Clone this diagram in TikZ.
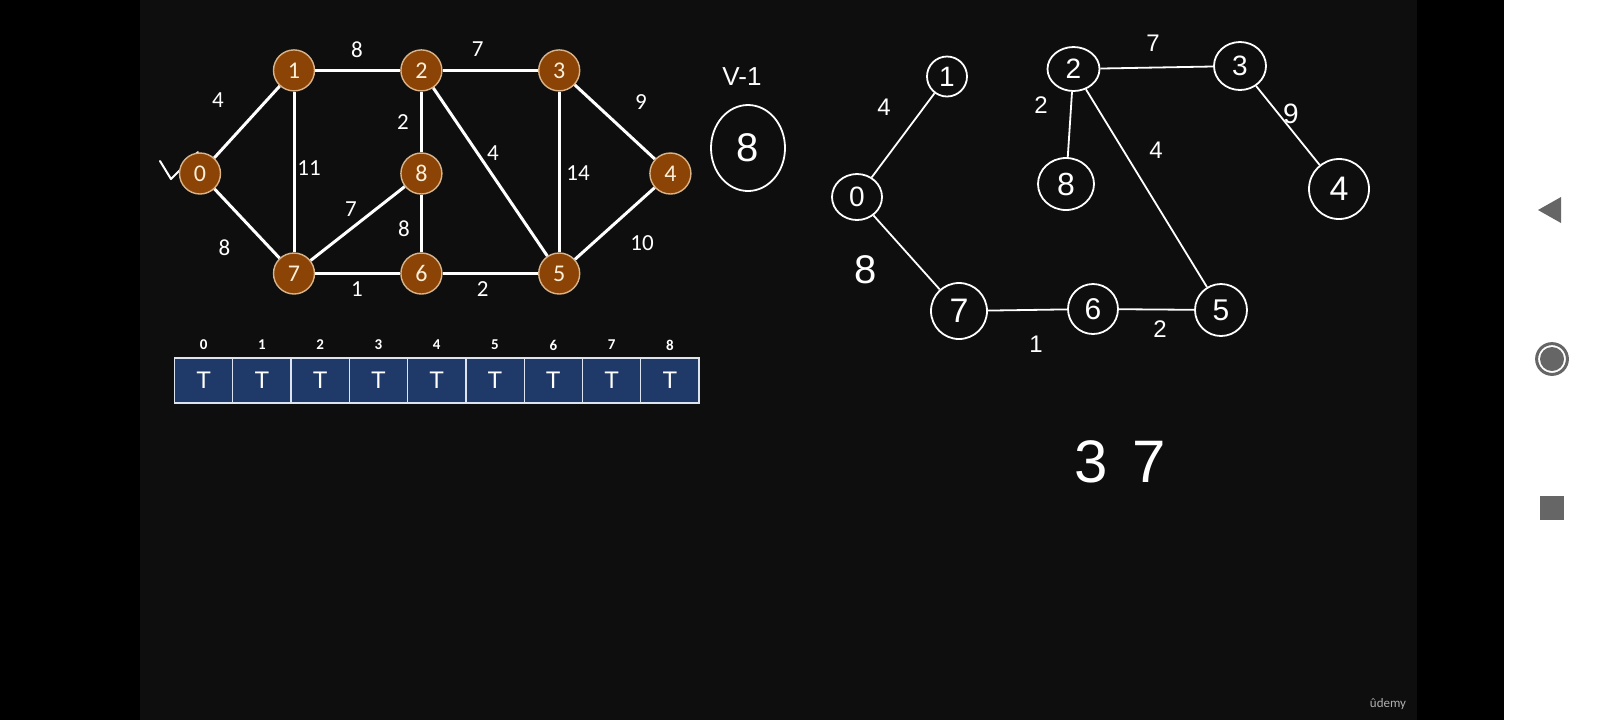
\documentclass[tikz,border=0pt]{standalone}
\usepackage{fontspec}
\setmainfont{Carlito}
\newfontfamily\hand{Liberation Sans}
\usetikzlibrary{shapes.geometric}
\definecolor{slidebg}{HTML}{0E0E0E}
\definecolor{nodebrown}{HTML}{8B4306}
\definecolor{nodeedge}{HTML}{D9B48A}
\definecolor{nodetext}{HTML}{FBEFD8}
\definecolor{cellblue}{HTML}{1F3A68}
\definecolor{cellline}{HTML}{DCE4F0}
\definecolor{navcol}{HTML}{666666}
\definecolor{udemycol}{HTML}{B0B0B0}
\begin{document}
\begin{tikzpicture}[x=0.5pt,y=-0.5pt,
 gnode/.style={circle, fill=nodebrown, draw=nodeedge, line width=0.7pt, minimum size=20.5pt, inner sep=0pt, text=nodetext, font=\fontsize{12}{13}\selectfont},
 gedge/.style={draw=white, line width=1.5pt},
 glabel/.style={text=white, font=\fontsize{11.5}{13}\selectfont, inner sep=0pt},
 cell/.style={rectangle, fill=cellblue, draw=cellline, line width=0.6pt, minimum width=29.14pt, minimum height=22.5pt, inner sep=0pt, text=white, font=\hand\fontsize{12}{14}\selectfont},
 idx/.style={text=white, font=\bfseries\fontsize{7.5}{9}\selectfont, inner sep=0pt},
 hnode/.style={ellipse, draw=white, line width=0.9pt, inner sep=0pt, text=white, font=\hand\fontsize{14}{16}\selectfont},
 hedge/.style={draw=white, line width=0.9pt},
 hlabel/.style={text=white, font=\hand\fontsize{12}{14}\selectfont, inner sep=0pt}
]
% background
\fill[black] (0,0) rectangle (1600,720);
\useasboundingbox (0,0) rectangle (1600,720);
\fill[slidebg] (140,0) rectangle (1417,720);
\fill[white] (1504,0) rectangle (1600,720);

% ---------- left graph ----------
\draw[white, line width=1pt, line cap=round, line join=round] (160,161) -- (171,179) -- (198,152);
\node[gnode] (n0) at (200,173.5) {0};
\node[gnode] (n1) at (294,70.4) {1};
\node[gnode] (n2) at (421.4,70.4) {2};
\node[gnode] (n3) at (559.2,70.4) {3};
\node[gnode] (n4) at (670.4,173.5) {4};
\node[gnode] (n8) at (421.4,173.5) {8};
\node[gnode] (n7) at (294,273.5) {7};
\node[gnode] (n6) at (421.4,273.5) {6};
\node[gnode] (n5) at (559.2,273.5) {5};
\draw[gedge] (n0) -- (n1);
\draw[gedge] (n0) -- (n7);
\draw[gedge] (n1) -- (n2);
\draw[gedge] (n2) -- (n3);
\draw[gedge] (n3) -- (n4);
\draw[gedge] (n1) -- (n7);
\draw[gedge] (n2) -- (n8);
\draw[gedge] (n2) -- (n5);
\draw[gedge] (n3) -- (n5);
\draw[gedge] (n8) -- (n7);
\draw[gedge] (n8) -- (n6);
\draw[gedge] (n7) -- (n6);
\draw[gedge] (n6) -- (n5);
\draw[gedge] (n4) -- (n5);
\node[glabel] (l01) at (218,100) {4};
\node[glabel] (l12) at (357,50) {8};
\node[glabel] (l23) at (477.6,49) {7};
\node[glabel] (l34) at (641,102) {9};
\node[glabel] (l17) at (309,168) {11};
\node[glabel] (l28) at (403,122.5) {2};
\node[glabel] (l25) at (493,153) {4};
\node[glabel] (l35) at (578,173.5) {14};
\node[glabel] (l78) at (351,209) {7};
\node[glabel] (l86) at (404,228.6) {8};
\node[glabel] (l07) at (224.5,248) {8};
\node[glabel] (l45) at (642,243) {10};
\node[glabel] (l76) at (357,289) {1};
\node[glabel] (l65) at (482.7,289) {2};

% ---------- array ----------
\foreach \i in {0,...,8} {
  \node[cell] (c\i) at ({174.5+58.28*(\i+0.5)},380.5) {T};
  \node[idx] (i\i) at ({174.5+58.28*(\i+0.5)},345) {\i};
}

% ---------- handwritten part ----------
\node[hlabel, font=\hand\fontsize{13}{14}\selectfont] (vm1) at (742,77) {V-1};
\node[hnode, minimum width=37pt, minimum height=43pt, font=\hand\fontsize{20}{22}\selectfont] (h8a) at (748,148) {8};
\node[hnode, minimum width=20pt, minimum height=20pt] (h1) at (947,76.5) {1};
\node[hnode, minimum width=26pt, minimum height=22pt] (h2) at (1073.5,69) {2};
\node[hnode, minimum width=26pt, minimum height=24pt] (h3) at (1240,66) {3};
\node[hnode, minimum width=25pt, minimum height=23pt] (h0) at (857,197) {0};
\node[hnode, minimum width=28pt, minimum height=26pt, font=\hand\fontsize{16}{18}\selectfont] (h8) at (1066,184) {8};
\node[hnode, minimum width=30pt, minimum height=30pt, font=\hand\fontsize{17}{18}\selectfont] (h4) at (1339,189) {4};
\node[hnode, minimum width=28pt, minimum height=28pt, font=\hand\fontsize{17}{18}\selectfont] (h7) at (959,311) {7};
\node[hnode, minimum width=25pt, minimum height=25pt, font=\hand\fontsize{15}{18}\selectfont] (h6) at (1093,309) {6};
\node[hnode, minimum width=26pt, minimum height=26pt, font=\hand\fontsize{15}{18}\selectfont] (h5) at (1221,310) {5};
\draw[hedge] (h0) -- (h1);
\draw[hedge] (h0) -- (h7);
\draw[hedge] (h7) -- (h6);
\draw[hedge] (h6) -- (h5);
\draw[hedge] (h2) -- (h8);
\draw[hedge] (h2) -- (h5);
\draw[hedge] (h2) -- (h3);
\draw[hedge] (h3) -- (h4);
\node[hlabel] (hl01) at (884,107) {4};
\node[hlabel, font=\hand\fontsize{20}{22}\selectfont] (hl07) at (866,270) {8};
\node[hlabel] (hl76) at (1036,344) {1};
\node[hlabel] (hl65) at (1160,329) {2};
\node[hlabel] (hl28) at (1041,105) {2};
\node[hlabel] (hl25) at (1156,150) {4};
\node[hlabel] (hl23) at (1153,43) {7};
\node[hlabel, font=\hand\fontsize{14}{16}\selectfont] (hl34) at (1291,114) {9};
\node[hlabel, font=\hand\fontsize{30}{32}\selectfont] (total) at (1120,462) {3\hspace{12pt}7};

% ---------- watermark ----------
\node[text=udemycol, font=\fontsize{6.5}{8}\selectfont, inner sep=0pt] (udemy) at (1388,704) {ûdemy};

% ---------- nav bar ----------
\fill[navcol] (1538,210) -- (1561,197) -- (1561,223) -- cycle;
\draw[navcol, line width=1.5pt] (1552,359) circle (7.7pt);
\fill[navcol] (1552,359) circle (6pt);
\fill[navcol] (1540,496) rectangle (1564,520);
\end{tikzpicture}
\end{document}
